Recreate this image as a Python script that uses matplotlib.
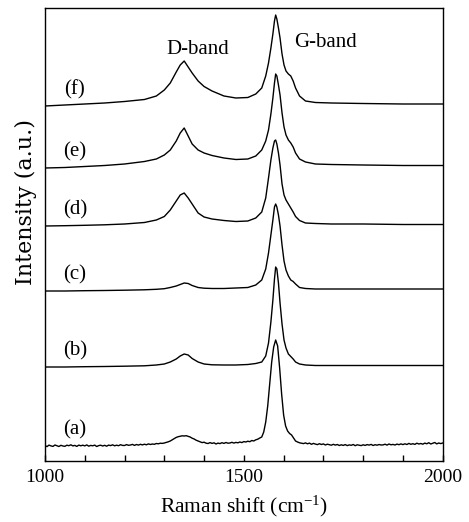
import matplotlib
matplotlib.use("Agg")
import matplotlib.pyplot as plt
from matplotlib.ticker import MultipleLocator, FixedLocator

plt.rcParams['font.family'] = ['Liberation Serif', 'DejaVu Serif']
plt.rcParams['mathtext.default'] = 'regular'

# ---- data (Raman spectra, arbitrary units) ----
labels = ["(a)", "(b)", "(c)", "(d)", "(e)", "(f)"]
offsets = [15, 94, 170, 235, 293, 355]

x_grid = [1000, 1050, 1100, 1150, 1200, 1250, 1280, 1300, 1315, 1330, 1340, 1350,
          1360, 1370, 1385, 1400, 1420, 1450, 1480, 1510, 1530, 1545, 1555, 1562,
          1568, 1573, 1577, 1580, 1583, 1587, 1591, 1596, 1601, 1606, 1612, 1618,
          1624, 1630, 1640, 1655, 1680, 1720, 1800, 1900, 2000]

spec_b = [0, 0, 0.3, 0.5, 0.8, 1.2, 2, 3, 5, 8, 11, 13,
          12, 8.5, 5, 3, 2.2, 2, 2, 2.5, 3.5, 5, 11, 24,
          45, 67, 88, 100, 98, 84, 64, 43, 27, 19, 13, 10.5,
          8, 5, 3, 2, 1.5, 1.5, 1.5, 1.5, 1.5]

spec_c = [0, 0, 0.3, 0.5, 0.8, 1.2, 1.7, 2.3, 3.5, 5, 6.5, 8,
          7.5, 5.5, 3.5, 2.8, 2.5, 2.5, 3, 3.5, 6, 11, 22, 38,
          56, 71, 84, 87, 84, 76, 65, 46, 30, 21, 15, 11,
          9.5, 7, 3.5, 2.5, 2, 2, 2, 2, 2]

spec_d = [0, 0.3, 0.7, 1.2, 2, 3.5, 6, 9.5, 16, 25, 31, 33,
          28, 22, 13, 9, 7, 5.5, 4.5, 5, 8, 14, 28, 48,
          66, 78, 85, 86, 82, 73, 61, 42, 31, 26, 22, 18,
          14, 9.5, 5.5, 3, 2.5, 2, 2, 1.5, 1.5]

spec_e = [0, 0.5, 1.5, 2.5, 4, 6.5, 9, 13, 18, 27, 35, 40,
          32, 24, 18, 15, 12.5, 10, 8.5, 9, 12, 18, 27, 38,
          54, 70, 85, 94, 92, 83, 73, 55, 41, 33, 28, 25,
          21, 15, 9, 6, 4, 3.5, 3, 2.5, 2.5]

spec_f = [0, 1, 2, 3, 4.5, 6.5, 10, 16, 23, 34, 41, 45,
          39, 33, 25, 19.5, 15, 10, 8, 8.5, 12, 18, 30, 43,
          58, 72, 85, 91, 87, 78, 68, 52, 41, 35, 32, 30,
          25, 18, 10, 5, 3.5, 3, 2.5, 2, 2]

# curve (a): sampled every 5 cm-1 from 1000 to 2000
x_a = [1000 + 5 * i for i in range(201)]
spec_a = [0.5, -0.6, 0.9, 0.1, -0.4, 1.0, 0.2, -0.5, 0.7, 0.0,
          -0.3, 0.8, 0.3, 1.2, 0.1, 0.6, -0.4, 0.9, 0.2, 0.8,
          0.1, 1.1, -0.2, 0.6, 0.2, 0.9, -0.5, 0.4, 0.8, 0.0,
          0.7, -0.2, 0.9, 0.4, 1.2, 0.2, 0.8, 0.3, 1.3, 0.6,
          0.5, 1.4, 0.7, 1.0, 1.6, 0.6, 1.5, 0.9, 1.7, 1.1,
          1.8, 1.2, 2.1, 1.5, 2.0, 1.7, 2.5, 2.2, 2.8, 2.6,
          3.0, 3.6, 4.2, 5.0, 6.2, 7.5, 8.6, 9.3, 9.8, 10.2,
          10.0, 10.3, 9.6, 9.0, 7.8, 7.0, 5.8, 5.0, 4.2, 3.4,
          3.8, 2.8, 2.5, 3.4, 2.6, 3.2, 2.0, 2.9, 2.4, 3.3,
          2.6, 3.5, 2.8, 3.0, 3.7, 2.9, 3.6, 3.2, 4.0, 3.4,
          4.4, 4.0, 4.8, 4.3, 5.5, 5.0, 6.2, 6.8, 8.0, 9.0,
          14, 24, 40, 62, 84, 99, 106, 100, 78, 52,
          31, 20, 15, 12.5, 11, 8, 5, 4.0, 3.2, 2.8,
          2.4, 3.1, 2.2, 2.9, 1.7, 2.6, 1.9, 1.4, 2.3, 1.5,
          2.1, 1.0, 1.8, 1.3, 0.8, 1.7, 0.9, 1.5, 0.5, 1.2,
          0.6, 1.4, 0.4, 1.1, 0.7, 1.5, 0.3, 1.2, 0.8, 0.4,
          1.2, 0.6, 1.4, 0.9, 1.6, 0.5, 1.3, 0.8, 1.5, 1.0,
          1.1, 1.8, 0.9, 2.0, 1.2, 1.6, 1.0, 1.9, 1.3, 2.1,
          1.4, 2.2, 1.5, 2.6, 1.7, 2.3, 1.6, 2.8, 2.0, 2.5,
          1.8, 2.9, 2.2, 3.3, 2.0, 2.7, 3.5, 2.1, 3.0, 2.4,
          3.0]

band_labels = ["D-band", "G-band"]
band_pos = [(1385, 407), (1705, 414)]
label_x = 1075
label_dy = 16

# ---- figure ----
fig = plt.figure(figsize=(4.69, 5.22), dpi=100)
ax = fig.add_axes([45 / 469, 1 - 461 / 522, (442.7 - 45) / 469, (461 - 8) / 522])

series = [(x_a, spec_a)] + [(x_grid, s) for s in (spec_b, spec_c, spec_d, spec_e, spec_f)]
for (xs, ys), off, lab in zip(series, offsets, labels):
    ax.plot(xs, [v + off for v in ys], color='black', lw=1.0)
    ax.text(label_x, off + label_dy, lab, ha='center', va='center', fontsize=15)

for txt, (bx, by) in zip(band_labels, band_pos):
    ax.text(bx, by, txt, ha='center', va='baseline', fontsize=15)

ax.set_xlim(1000, 2000)
ax.set_ylim(0, 453)
ax.set_yticks([])
ax.xaxis.set_major_locator(FixedLocator([1000, 1500, 2000]))
ax.xaxis.set_minor_locator(MultipleLocator(100))
ax.tick_params(axis='x', which='both', direction='in', length=4, width=1, top=False,
               labelsize=14, pad=6)
for sp in ax.spines.values():
    sp.set_linewidth(1.0)

ax.set_xlabel(r'Raman shift (cm$^{-1}$)', fontsize=15.5, labelpad=5)
fig.text(26 / 469, 1 - 202 / 522, 'Intensity (a.u.)', rotation=90, ha='center',
         va='center', fontsize=16, family=['DejaVu Serif'])

fig.savefig('out.png', dpi=100)
